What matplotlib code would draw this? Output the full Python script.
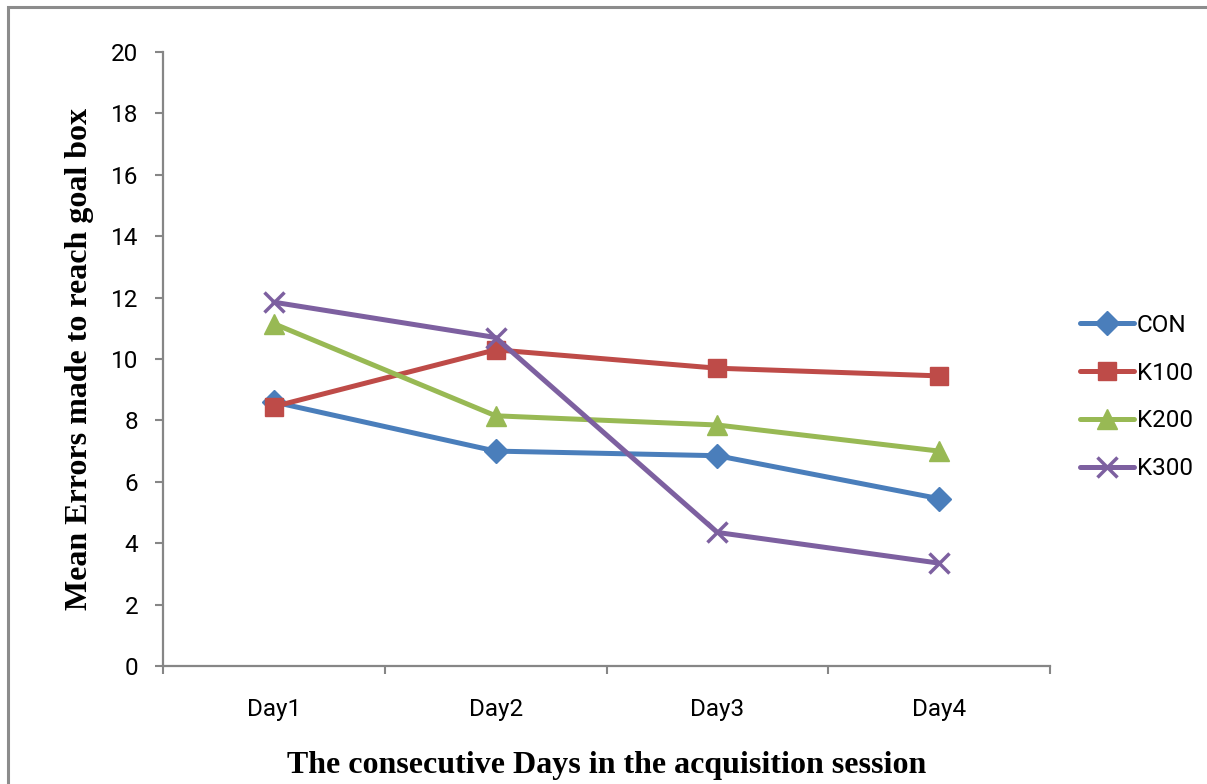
import matplotlib
matplotlib.use("Agg")
import matplotlib.pyplot as plt
from matplotlib.patches import Rectangle

days = ["Day1", "Day2", "Day3", "Day4"]
con = [8.6, 7.0, 6.85, 5.45]
k100 = [8.45, 10.3, 9.7, 9.45]
k200 = [11.15, 8.15, 7.85, 7.0]
k300 = [11.85, 10.7, 4.35, 3.35]
series_names = ["CON", "K100", "K200", "K300"]
y_ticks = [0, 2, 4, 6, 8, 10, 12, 14, 16, 18, 20]

W, H = 1207, 784
fig = plt.figure(figsize=(W / 100, H / 100), dpi=100)
fig.patch.set_facecolor("white")

# outer chart border
fig.add_artist(Rectangle((8 / W, -0.05), 1.2, 1 - 7 / H + 0.05, transform=fig.transFigure,
                         fill=False, edgecolor="#8c8c8c", linewidth=2.2))

ax = fig.add_axes([163 / W, 1 - 666 / H, (1050 - 163) / W, (666 - 52) / H])

tick_font = ["Roboto", "DejaVu Sans"]
styles = [
    (con, "#4A7EBB", "D", 12, dict()),
    (k100, "#BE4B48", "s", 13, dict()),
    (k200, "#98B954", "^", 14, dict()),
    (k300, "#7D60A0", "x", 14, dict(markeredgewidth=2.5)),
]
x = list(range(len(days)))
for (vals, col, mk, ms, extra), name in zip(styles, series_names):
    ax.plot(x, vals, color=col, linewidth=3.6, marker=mk, markersize=ms,
            markerfacecolor=col, markeredgecolor=col, label=name,
            solid_capstyle="round", **extra)

ax.set_xlim(-0.5, len(days) - 0.5)
ax.set_ylim(0, 20)
ax.set_yticks(y_ticks)
ax.set_yticklabels([str(v) for v in y_ticks], family=tick_font, fontsize=17.5)
ax.set_xticks([i - 0.5 for i in range(len(days) + 1)])
ax.set_xticklabels([])
ax.set_xticks(x, minor=True)
ax.set_xticklabels(days, minor=True, family=tick_font, fontsize=17.5)
ax.tick_params(axis="x", which="major", length=6, width=1.5, color="#868686", direction="out")
ax.tick_params(axis="x", which="minor", length=0, pad=23)
ax.tick_params(axis="y", length=6, width=1.5, color="#868686", direction="out", pad=12)

for s in ["top", "right"]:
    ax.spines[s].set_visible(False)
for s in ["left", "bottom"]:
    ax.spines[s].set_color("#868686")
    ax.spines[s].set_linewidth(1.6)

ax.set_ylabel("Mean Errors made to reach goal box", family=["Liberation Serif"],
              fontweight="bold", fontsize=23, labelpad=12)
fig.text(607 / W, 1 - 765 / H, "The consecutive Days in the acquisition session",
         family=["Liberation Serif"], fontweight="bold", fontsize=23,
         ha="center", va="center")

leg = fig.legend(loc="center left", bbox_to_anchor=(1070 / W, 1 - 397 / H), frameon=False,
                 prop=dict(family=tick_font, size=17.5),
                 handlelength=2.25, labelspacing=1.02, handletextpad=0.1,
                 borderaxespad=0.0)

fig.savefig("out.png", dpi=100, facecolor="white")
